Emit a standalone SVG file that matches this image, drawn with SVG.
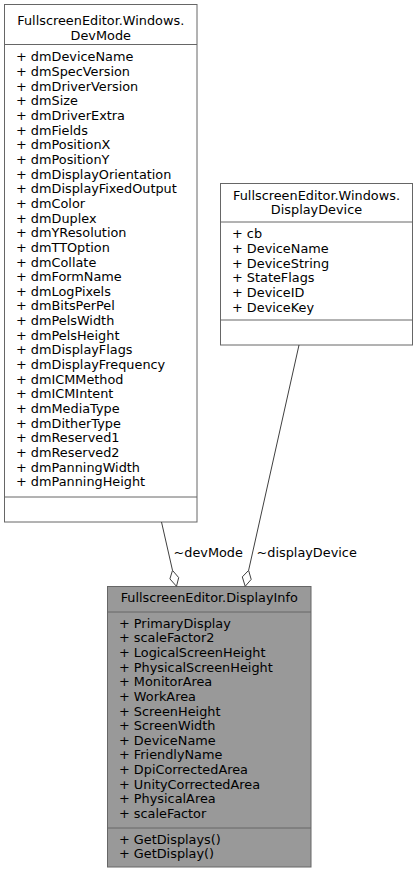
<svg xmlns="http://www.w3.org/2000/svg" width="419" height="873" viewBox="0 0 419 873">
  <style>
    text { font-family: "DejaVu Sans", "Liberation Sans", sans-serif; font-size: 12.85px; fill: #000000; }
    .title { text-anchor: middle; }
    .box { fill: #ffffff; stroke: #666666; stroke-width: 1; }
    .focus { fill: #999999; stroke: #666666; stroke-width: 1; }
    .sep { stroke: #666666; stroke-width: 1; fill: none; }
    .edge { stroke: #404040; stroke-width: 1; fill: none; }
    .diamond { fill: #ffffff; stroke: #404040; stroke-width: 1; }
  </style>

  <!-- class FullscreenEditor.Windows.DevMode -->
  <g id="node-devmode">
    <rect class="box" x="4.5" y="4.5" width="192.5" height="517.5"/>
    <text class="title" x="100.75" y="25.4">FullscreenEditor.Windows.</text>
    <text class="title" x="100.75" y="39.6">DevMode</text>
    <line class="sep" x1="4.5" y1="44.5" x2="197" y2="44.5"/>
    <text x="16" y="61.4">+ dmDeviceName</text>
    <text x="16" y="76.05">+ dmSpecVersion</text>
    <text x="16" y="90.7">+ dmDriverVersion</text>
    <text x="16" y="105.35">+ dmSize</text>
    <text x="16" y="120">+ dmDriverExtra</text>
    <text x="16" y="134.65">+ dmFields</text>
    <text x="16" y="149.3">+ dmPositionX</text>
    <text x="16" y="163.95">+ dmPositionY</text>
    <text x="16" y="178.6">+ dmDisplayOrientation</text>
    <text x="16" y="193.25">+ dmDisplayFixedOutput</text>
    <text x="16" y="207.9">+ dmColor</text>
    <text x="16" y="222.55">+ dmDuplex</text>
    <text x="16" y="237.2">+ dmYResolution</text>
    <text x="16" y="251.85">+ dmTTOption</text>
    <text x="16" y="266.5">+ dmCollate</text>
    <text x="16" y="281.15">+ dmFormName</text>
    <text x="16" y="295.8">+ dmLogPixels</text>
    <text x="16" y="310.45">+ dmBitsPerPel</text>
    <text x="16" y="325.1">+ dmPelsWidth</text>
    <text x="16" y="339.75">+ dmPelsHeight</text>
    <text x="16" y="354.4">+ dmDisplayFlags</text>
    <text x="16" y="369.05">+ dmDisplayFrequency</text>
    <text x="16" y="383.7">+ dmICMMethod</text>
    <text x="16" y="398.35">+ dmICMIntent</text>
    <text x="16" y="413">+ dmMediaType</text>
    <text x="16" y="427.65">+ dmDitherType</text>
    <text x="16" y="442.3">+ dmReserved1</text>
    <text x="16" y="456.95">+ dmReserved2</text>
    <text x="16" y="471.6">+ dmPanningWidth</text>
    <text x="16" y="486.25">+ dmPanningHeight</text>
    <line class="sep" x1="4.5" y1="497" x2="197" y2="497"/>
  </g>

  <!-- class FullscreenEditor.Windows.DisplayDevice -->
  <g id="node-displaydevice">
    <rect class="box" x="220.5" y="183.5" width="192" height="161.5"/>
    <text class="title" x="316.5" y="199.6">FullscreenEditor.Windows.</text>
    <text class="title" x="316.5" y="213.8">DisplayDevice</text>
    <line class="sep" x1="220.5" y1="222" x2="412.5" y2="222"/>
    <text x="232" y="238.4">+ cb</text>
    <text x="232" y="253.05">+ DeviceName</text>
    <text x="232" y="267.7">+ DeviceString</text>
    <text x="232" y="282.35">+ StateFlags</text>
    <text x="232" y="297">+ DeviceID</text>
    <text x="232" y="311.65">+ DeviceKey</text>
    <line class="sep" x1="220.5" y1="320" x2="412.5" y2="320"/>
  </g>

  <!-- class FullscreenEditor.DisplayInfo -->
  <g id="node-displayinfo">
    <rect class="focus" x="107.5" y="586.5" width="203.5" height="280.5"/>
    <text class="title" x="209.25" y="601.6">FullscreenEditor.DisplayInfo</text>
    <line class="sep" x1="107.5" y1="612" x2="311" y2="612"/>
    <text x="119" y="627.6">+ PrimaryDisplay</text>
    <text x="119" y="642.25">+ scaleFactor2</text>
    <text x="119" y="656.9">+ LogicalScreenHeight</text>
    <text x="119" y="671.55">+ PhysicalScreenHeight</text>
    <text x="119" y="686.2">+ MonitorArea</text>
    <text x="119" y="700.85">+ WorkArea</text>
    <text x="119" y="715.5">+ ScreenHeight</text>
    <text x="119" y="730.15">+ ScreenWidth</text>
    <text x="119" y="744.8">+ DeviceName</text>
    <text x="119" y="759.45">+ FriendlyName</text>
    <text x="119" y="774.1">+ DpiCorrectedArea</text>
    <text x="119" y="788.75">+ UnityCorrectedArea</text>
    <text x="119" y="803.4">+ PhysicalArea</text>
    <text x="119" y="818.05">+ scaleFactor</text>
    <line class="sep" x1="107.5" y1="828" x2="311" y2="828"/>
    <text x="119" y="843.6">+ GetDisplays()</text>
    <text x="119" y="858.25">+ GetDisplay()</text>
  </g>

  <!-- aggregation connectors -->
  <g id="edges">
    <g id="edge-devmode">
      <line class="edge" x1="161.5" y1="522" x2="172.5" y2="570.4"/>
      <polygon class="diamond" points="172.5,570.4 169.9,578.9 176.5,586.3 178.7,577.6"/>
      <text x="173.5" y="556.6">~devMode</text>
    </g>
    <g id="edge-displaydevice">
      <line class="edge" x1="299" y1="345" x2="248.6" y2="570.4"/>
      <polygon class="diamond" points="248.6,570.4 242.3,576.9 245.2,586.3 251.2,579.4"/>
      <text x="256.5" y="556.6">~displayDevice</text>
    </g>
  </g>
</svg>
